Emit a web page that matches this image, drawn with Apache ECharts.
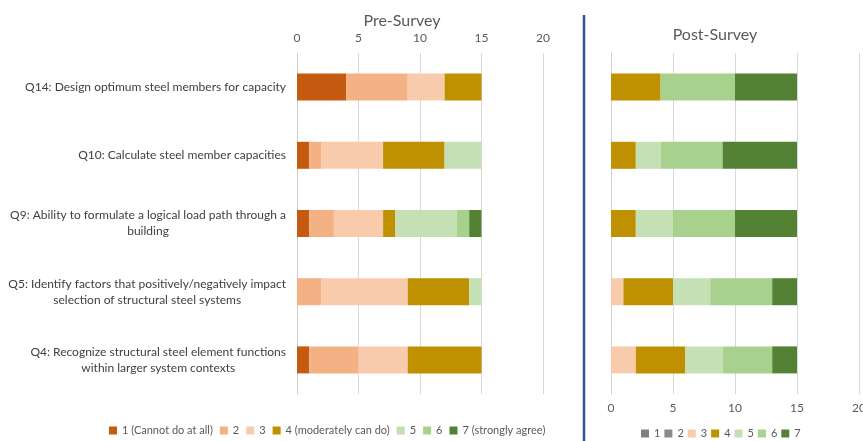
<!DOCTYPE html>
<html>
<head>
<meta charset="utf-8">
<script src="https://cdn.jsdelivr.net/npm/echarts@6/dist/echarts.min.js"></script>
<style>
  html, body { margin: 0; padding: 0; background: #ffffff; }
  #chart { width: 863px; height: 441px; }
</style>
</head>
<body>
<div id="chart"></div>
<script>
// ---- Data ----
const categories = [
  'Q14: Design optimum steel members for capacity',
  'Q10: Calculate steel member capacities',
  'Q9: Ability to formulate a logical load path through a\nbuilding',
  'Q5: Identify factors that positively/negatively impact\nselection of structural steel systems',
  'Q4: Recognize structural steel element functions\nwithin larger system contexts'
];
const preNames = ['1 (Cannot do at all)', '2', '3', '4 (moderately can do)', '5', '6', '7 (strongly agree)'];
const postNames = ['1', '2', '3', '4', '5', '6', '7'];
// counts per response level, order: Q14, Q10, Q9, Q5, Q4
const pre1 = [4, 1, 1, 0, 1];
const pre2 = [5, 1, 2, 2, 4];
const pre3 = [3, 5, 4, 7, 4];
const pre4 = [3, 5, 1, 5, 6];
const pre5 = [0, 3, 5, 1, 0];
const pre6 = [0, 0, 1, 0, 0];
const pre7 = [0, 0, 1, 0, 0];
const post1 = [0, 0, 0, 0, 0];
const post2 = [0, 0, 0, 0, 0];
const post3 = [0, 0, 0, 1, 2];
const post4 = [4, 2, 2, 4, 4];
const post5 = [0, 2, 3, 3, 3];
const post6 = [6, 5, 5, 5, 4];
const post7 = [5, 6, 5, 2, 2];
const xTicks = [0, 5, 10, 15, 20];

const preColors = ['#c55a11', '#f4b183', '#f8cbad', '#bf9000', '#c5e0b4', '#a9d18e', '#548235'];
const postColors = ['#7f7f7f', '#8a8a8a', '#f8cbad', '#bf9000', '#c5e0b4', '#a9d18e', '#548235'];
const preData = [pre1, pre2, pre3, pre4, pre5, pre6, pre7];
const postData = [post1, post2, post3, post4, post5, post6, post7];

const FONT = 'Lato';
const series = [];
preData.forEach((d, i) => {
  series.push({
    name: preNames[i], type: 'bar', stack: 'pre', xAxisIndex: 0, yAxisIndex: 0,
    barWidth: 27, data: d, itemStyle: { color: preColors[i] }
  });
});
postData.forEach((d, i) => {
  series.push({
    name: 'p' + postNames[i], type: 'bar', stack: 'post', xAxisIndex: 1, yAxisIndex: 1,
    barWidth: 27, data: d, itemStyle: { color: postColors[i] }
  });
});

const chart = echarts.init(document.getElementById('chart'), null, { renderer: 'canvas' });
chart.setOption({
  animation: false,
  backgroundColor: '#ffffff',
  textStyle: { fontFamily: FONT },
  title: [
    { text: 'Pre-Survey', left: 397, top: 8, textAlign: 'center',
      textStyle: { fontFamily: FONT, fontSize: 16, fontWeight: 'normal', color: '#595959' } },
    { text: 'Post-Survey', left: 710, top: 22, textAlign: 'center',
      textStyle: { fontFamily: FONT, fontSize: 16, fontWeight: 'normal', color: '#595959' } }
  ],
  legend: [
    { data: preNames, left: 104, top: 420, itemWidth: 8, itemHeight: 8, itemGap: 7,
      icon: 'rect', textStyle: { fontFamily: FONT, fontSize: 11, color: '#595959' } },
    { data: postNames.map(n => 'p' + n), left: 636, top: 423, itemWidth: 8, itemHeight: 8, itemGap: 4,
      icon: 'rect', formatter: n => n.slice(1),
      textStyle: { fontFamily: FONT, fontSize: 11, color: '#595959' } }
  ],
  grid: [
    { left: 297, top: 53, width: 246, height: 341, outerBoundsMode: 'none', containLabel: false },
    { left: 611, top: 53, width: 248, height: 341, outerBoundsMode: 'none', containLabel: false }
  ],
  xAxis: [
    { type: 'value', gridIndex: 0, position: 'top', min: xTicks[0], max: xTicks[xTicks.length - 1], interval: 5,
      axisLine: { show: false }, axisTick: { show: false },
      axisLabel: { color: '#595959', fontSize: 12, fontFamily: FONT, margin: 9 },
      splitLine: { lineStyle: { color: '#d9d9d9', width: 1 } } },
    { type: 'value', gridIndex: 1, position: 'bottom', min: xTicks[0], max: xTicks[xTicks.length - 1], interval: 5,
      axisLine: { show: false }, axisTick: { show: false },
      axisLabel: { color: '#595959', fontSize: 12, fontFamily: FONT, margin: 8 },
      splitLine: { lineStyle: { color: '#d9d9d9', width: 1 } } }
  ],
  yAxis: [
    { type: 'category', gridIndex: 0, data: categories, inverse: true,
      axisLine: { show: true, lineStyle: { color: '#d0d0d0' } }, axisTick: { show: false },
      axisLabel: {
        margin: 11, color: '#404040', fontSize: 12, fontFamily: FONT, lineHeight: 16,
        formatter: v => v.split('\n').map(l => '{c|' + l + '}').join('\n'),
        rich: { c: { align: 'center', color: '#404040', fontSize: 12, fontFamily: FONT, lineHeight: 16 } }
      } },
    { type: 'category', gridIndex: 1, data: categories, inverse: true,
      axisLine: { show: true, lineStyle: { color: '#d0d0d0' } }, axisTick: { show: false },
      axisLabel: { show: false } }
  ],
  graphic: [
    { type: 'line', shape: { x1: 584, y1: 15, x2: 584, y2: 441 },
      style: { stroke: '#2f5597', lineWidth: 2.5 }, silent: true }
  ],
  series: series
});
</script>
</body>
</html>
